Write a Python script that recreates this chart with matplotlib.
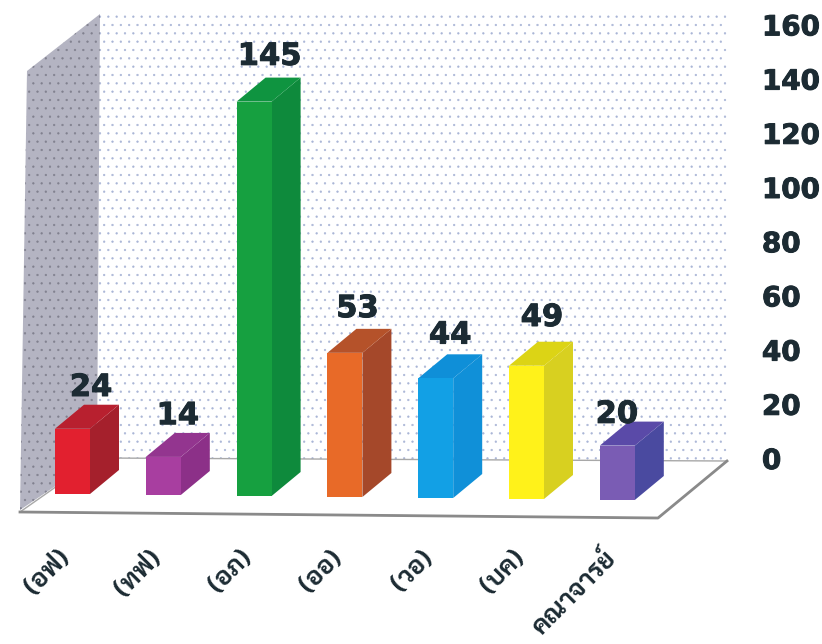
import matplotlib
matplotlib.use("Agg")
import matplotlib.pyplot as plt
import matplotlib.patheffects as pe
import numpy as np
from matplotlib.patches import Polygon

categories = ["(อฟ)", "(ทฟ)", "(อภ)", "(ออ)", "(วอ)", "(บค)", "คณาจารย์"]
values = [24, 14, 145, 53, 44, 49, 20]
y_ticks = [0, 20, 40, 60, 80, 100, 120, 140, 160]
front_colors = ["#e2202f", "#a83ea0", "#16a040", "#e86a28", "#12a0e5", "#fff21a", "#7a5cb4"]
side_colors = ["#a5202c", "#8c3088", "#0e8a3c", "#a5482a", "#1090d8", "#d8d020", "#4a4aa0"]
top_colors = ["#b8202f", "#93358f", "#0f9440", "#b5522a", "#0f8fd8", "#dcd415", "#5a4aa8"]

W, H = 822, 644
INK = "#1c2b33"
thai_fonts = ["Sarabun", "Noto Sans Thai", "Noto Sans", "DejaVu Sans"]
plt.rcParams["font.family"] = ["DejaVu Sans"]
plt.rcParams["hatch.linewidth"] = 0.4
fig = plt.figure(figsize=(W / 100, H / 100), dpi=100)

X0, XS = 72.5, 90.8          # px of first bar centre, px per category
Y0, YS = 494.0, 2.72         # px of zero at first bar, px per unit
ax = fig.add_axes([0, 0, 1, 1])
ax.set_xlim(-X0 / XS, (W - X0) / XS)
ax.set_ylim(-(H - Y0) / YS, Y0 / YS)
ax.axis("off")

def P(pts):
    return [((x - X0) / XS, (Y0 - y) / YS) for x, y in pts]

# walls and floor
ax.add_patch(Polygon(P([(100, 14), (727, 14), (727, 461), (97, 458)]), fc="white", ec="#a9b5d6",
                     hatch="..", lw=0, zorder=1))
ax.add_patch(Polygon(P([(100, 14), (27, 71), (20, 510), (97, 458)]), fc="#b4b4c2", ec="#80808e",
                     hatch="..", lw=0, zorder=2))
ax.add_patch(Polygon(P([(97, 458), (727, 461), (658, 518), (20, 512)]), fc="white", ec="#a8a8a8",
                     lw=1, zorder=3))
ax.plot(*zip(*P([(20, 512), (658, 518), (727, 461)])), color="#8a8a8a", lw=2, zorder=4)

# bars
width = 35 / XS
dx, dy = 29 / XS, 24 / YS
idx = np.arange(len(values))
bases = -idx / YS
label_dx = [4, 0, 1, -2, 0, 1, -15]
label_up = [0, 0, 4, 3, 2, 7, -10]
ax.bar(idx, values, width=width, bottom=bases, color=front_colors, zorder=6)
for i, v in enumerate(values):
    xl, xr = i - width / 2, i + width / 2
    b, t = bases[i], bases[i] + v
    ax.fill([xr, xr + dx, xr + dx, xr], [b, b + dy, t + dy, t], color=side_colors[i], lw=0, zorder=5)
    ax.fill([xl, xl + dx, xr + dx, xr], [t, t + dy, t + dy, t], color=top_colors[i], lw=0, zorder=5)
    ax.text(i + dx / 2 + label_dx[i] / XS, t + dy + 1 + label_up[i] / YS, str(v), ha="center",
            va="bottom", fontsize=22, fontweight="bold", color=INK, zorder=8,
            path_effects=[pe.withStroke(linewidth=0.7, foreground=INK)])
    ax.text(i - 14 / XS, (Y0 - 546) / YS, categories[i], rotation=45, ha="right", va="top",
            rotation_mode="anchor", fontsize=18.5, fontweight="bold", color=INK, zorder=8,
            family=thai_fonts, clip_on=False)

# value axis on the right, aligned with the back wall
ax2 = fig.add_axes([0, 0, 755 / W, 1])
ax2.patch.set_alpha(0)
ax2.set_xticks([])
for s in ax2.spines.values():
    s.set_visible(False)
ax2.set_ylim(-(H - 458) / 2.71, 458 / 2.71)
ax2.yaxis.tick_right()
ax2.set_yticks(y_ticks)
ax2.tick_params(axis="y", length=0, pad=5)
for lab in ax2.get_yticklabels():
    lab.set(fontsize=20, fontweight="bold", color=INK,
            path_effects=[pe.withStroke(linewidth=0.7, foreground=INK)])

fig.savefig("out.png", dpi=100)
